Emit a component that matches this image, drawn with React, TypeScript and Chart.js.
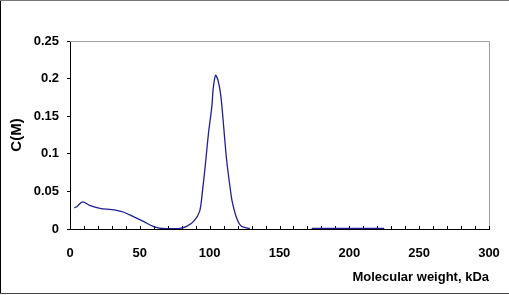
import React, { useEffect, useRef } from "react";
import { Chart, registerables } from "chart.js";

Chart.register(...registerables);

// Molecular weight (kDa) and concentration C(M); null marks a gap in the trace
const molecularWeight: number[] = [
  3, 5, 9, 14, 21.5, 30, 38, 45, 52.5, 59.5, 64, 70, 78, 83.5, 88.5, 92.8, 94.7,
  96.8, 99.2, 101.6, 102.5, 104.2, 106.1, 108, 110.2, 112.1, 114.5, 116.1, 119.3,
  122.8, 128.8, 150, 173, 200, 225,
];
const concentration: (number | null)[] = [
  0.028, 0.03, 0.036, 0.0315, 0.0275, 0.0257, 0.0226, 0.0168, 0.0101, 0.0035,
  0.0012, 0.0006, 0.0006, 0.0035, 0.0101, 0.0235, 0.048, 0.0835, 0.128, 0.1635,
  0.186, 0.2044, 0.197, 0.177, 0.1324, 0.0924, 0.0568, 0.0368, 0.0147, 0.0035,
  0.0005, null, 0.0008, 0.0008, 0.0008,
];

const xMin = 0;
const xMax = 300;
const xStep = 10;
const xLabelEvery = 50;
const yMin = 0;
const yMax = 0.25;
const yStep = 0.05;

const xTitle = "Molecular weight, kDa";
const yTitle = "C(M)";

const FONT = "'Liberation Sans', Arial, sans-serif";

const framePlugin = {
  id: "frame",
  beforeDatasetsDraw(chart: any) {
    const { ctx, chartArea } = chart;
    const { left, right, top, bottom } = chartArea;
    ctx.save();
    // gray top and right frame of the plot area
    ctx.strokeStyle = "#a0a0a0";
    ctx.lineWidth = 1;
    ctx.beginPath();
    ctx.moveTo(left, top + 0.5);
    ctx.lineTo(right + 0.5, top + 0.5);
    ctx.lineTo(right + 0.5, bottom);
    ctx.stroke();
    // inner ticks on the x axis
    const xs = chart.scales.x;
    ctx.strokeStyle = "#000";
    ctx.beginPath();
    xs.ticks.forEach((t: any) => {
      const px = Math.round(xs.getPixelForValue(t.value)) + 0.5;
      ctx.moveTo(px, bottom);
      ctx.lineTo(px, bottom - 3);
    });
    ctx.stroke();
    ctx.restore();
  },
  afterDraw(chart: any) {
    const { ctx, width } = chart;
    ctx.save();
    ctx.fillStyle = "#000";
    ctx.fillRect(0, 0, 1, 294);
    ctx.fillStyle = "#777";
    ctx.fillRect(0, 0, width, 1);
    ctx.fillStyle = "#444";
    ctx.fillRect(0, 293, width, 1);
    ctx.restore();
  },
};

export default function App() {
  const ref = useRef<HTMLCanvasElement | null>(null);

  useEffect(() => {
    if (!ref.current) return;
    const points = molecularWeight.map((x, i) => ({ x, y: concentration[i] }));
    const chart = new Chart(ref.current, {
      type: "line",
      data: {
        datasets: [
          {
            data: points as any,
            borderColor: "#1f1f96",
            borderWidth: 1.3,
            pointRadius: 0,
            tension: 0.3,
            fill: false,
            spanGaps: false,
          },
        ],
      },
      plugins: [framePlugin],
      options: {
        animation: false,
        responsive: false,
        devicePixelRatio: 1,
        layout: { padding: { top: 41, right: 20, bottom: 0, left: 0 } },
        plugins: { legend: { display: false }, tooltip: { enabled: false } },
        scales: {
          x: {
            type: "linear",
            min: xMin,
            max: xMax,
            afterFit(scale: any) {
              scale.height = 66;
              scale.paddingLeft = 0;
              scale.paddingRight = 0;
            },
            ticks: {
              stepSize: xStep,
              autoSkip: false,
              maxRotation: 0,
              padding: 9,
              color: "#000",
              font: { family: FONT, size: 13, weight: "bold" },
              callback: (v: any) => (Number(v) % xLabelEvery === 0 ? String(v) : ""),
            },
            grid: { display: false },
            border: { display: true, color: "#000", width: 1 },
            title: {
              display: true,
              text: xTitle,
              align: "end",
              color: "#000",
              font: { family: FONT, size: 13, weight: "bold" },
              padding: { top: 0, bottom: 10 },
            },
          },
          y: {
            min: yMin,
            max: yMax,
            afterFit(scale: any) {
              scale.width = 70;
              scale.paddingTop = 0;
              scale.paddingBottom = 0;
            },
            ticks: {
              stepSize: yStep,
              padding: 8,
              color: "#000",
              font: { family: FONT, size: 13, weight: "bold" },
              callback: (v: any) => String(Number(Number(v).toFixed(2))),
            },
            grid: {
              display: true,
              drawOnChartArea: false,
              drawTicks: true,
              tickLength: 3,
              color: "#000",
            },
            border: { display: true, color: "#000", width: 1 },
            title: {
              display: true,
              text: yTitle,
              color: "#000",
              font: { family: FONT, size: 15, weight: "bold" },
              padding: { top: 8, bottom: 0 },
            },
          },
        },
      },
    });
    return () => chart.destroy();
  }, []);

  return (
    <div style={{ position: "fixed", left: 0, top: 0, width: 509, height: 295, background: "#fff" }}>
      <canvas ref={ref} width={509} height={295} style={{ display: "block" }} />
    </div>
  );
}
